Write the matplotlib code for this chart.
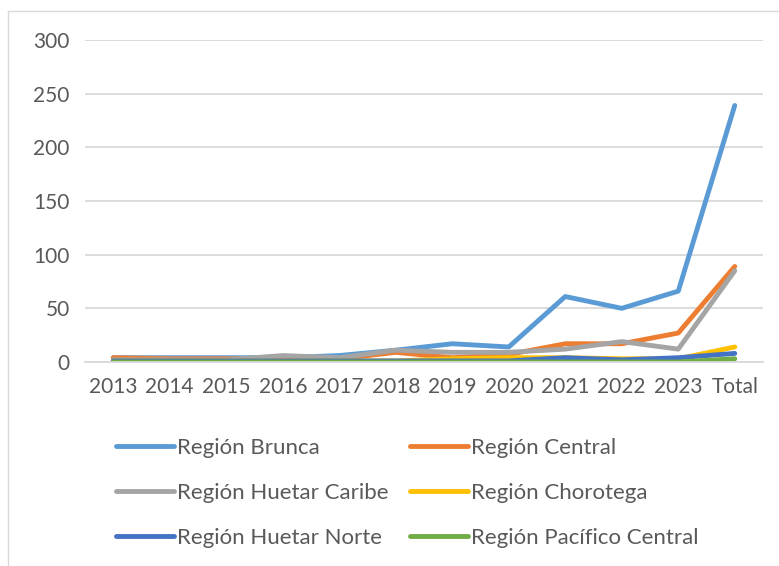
import matplotlib
matplotlib.use("Agg")
import matplotlib.pyplot as plt
from matplotlib.lines import Line2D

plt.rcParams['font.family'] = ['Lato', 'DejaVu Sans']

categories = ['2013', '2014', '2015', '2016', '2017', '2018', '2019', '2020',
              '2021', '2022', '2023', 'Total']

brunca = [4, 4, 4, 4, 6, 11, 17, 14, 61, 50, 66, 239]
central = [4, 3, 3, 3, 3, 9, 4, 7, 17, 17, 27, 89]
huetar_caribe = [2, 2, 2, 6, 4, 11, 9, 9, 12, 19, 12, 85]
chorotega = [1, 1, 1, 1, 1, 1, 3, 4, 4, 3, 3, 14]
huetar_norte = [1, 1, 1, 1, 1, 1, 1, 1, 4, 2, 4, 8]
pacifico_central = [0, 0, 0, 0, 0, 0, 0, 0, 0, 0, 0, 3]

series = [
    ('Región Brunca', brunca, '#5B9BD5'),
    ('Región Central', central, '#ED7D31'),
    ('Región Huetar Caribe', huetar_caribe, '#A5A5A5'),
    ('Región Chorotega', chorotega, '#FFC000'),
    ('Región Huetar Norte', huetar_norte, '#4472C4'),
    ('Región Pacífico Central', pacifico_central, '#70AD47'),
]

W, H = 779, 566
fig = plt.figure(figsize=(W / 100, H / 100), dpi=100)

# chart border (only top and left visible)
fig.add_artist(Line2D([8 / W, 8 / W], [0, 1 - 11 / H], color='#D9D9D9', lw=1, transform=fig.transFigure))
fig.add_artist(Line2D([8 / W, 1], [1 - 11 / H, 1 - 11 / H], color='#D9D9D9', lw=1, transform=fig.transFigure))

ax = fig.add_axes([85 / W, 1 - 362 / H, (763 - 85) / W, (362 - 40) / H])
x = range(len(categories))
lines = []
for name, vals, col in series:
    ln, = ax.plot(x, vals, color=col, lw=3.5, label=name, solid_capstyle='round', solid_joinstyle='round')
    lines.append(ln)

ax.set_xlim(-0.5, len(categories) - 0.5)
ax.set_ylim(0, 300)
ax.set_yticks(range(0, 301, 50))
ax.set_xticks(list(x))
ax.set_xticklabels(categories)
ax.grid(axis='y', color='#D9D9D9', lw=1.3)
ax.set_axisbelow(True)
for s in ['top', 'right', 'left']:
    ax.spines[s].set_visible(False)
ax.spines['bottom'].set_color('#D9D9D9')
ax.spines['bottom'].set_linewidth(1.3)
ax.tick_params(length=0, labelsize=15, colors='#595959', pad=11)
ax.tick_params(axis='x', pad=11)

# legend fills column-wise, so reorder to read row by row
order = [0, 2, 4, 1, 3, 5]
fig.legend([lines[i] for i in order], [series[i][0] for i in order],
           loc='upper left', bbox_to_anchor=(116 / W, 1 - 438 / H), ncol=2, frameon=False,
           fontsize=16, labelcolor='#595959', handlelength=2.6, handletextpad=0.15,
           columnspacing=0.95, labelspacing=1.12, borderaxespad=0, borderpad=0)

fig.savefig('out.png', dpi=100)
